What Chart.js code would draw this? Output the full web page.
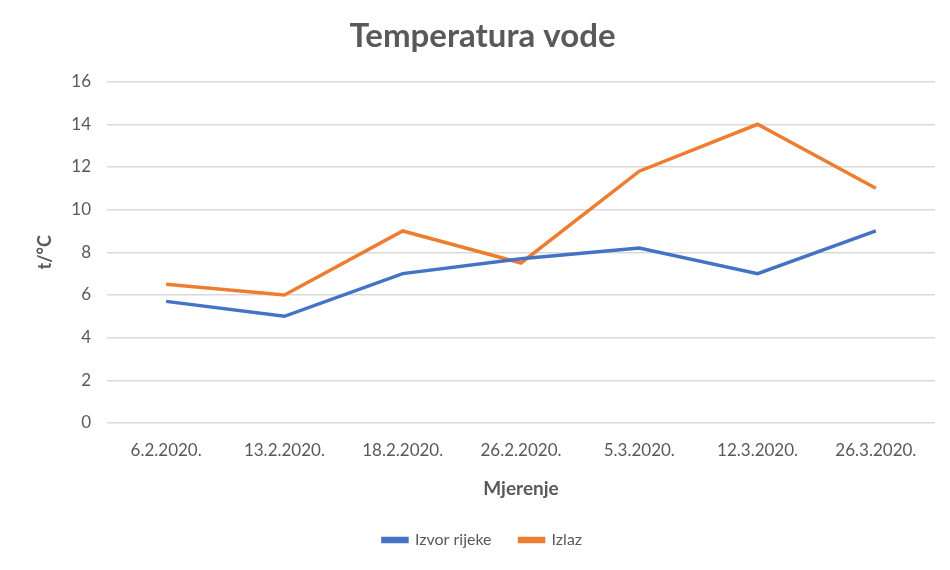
<!DOCTYPE html>
<html>
<head>
<meta charset="utf-8">
<script src="https://cdn.jsdelivr.net/npm/chart.js@4"></script>
<style>
  html, body { margin: 0; padding: 0; background: #fff; }
  #wrap { width: 950px; height: 570px; }
</style>
</head>
<body>
<div id="wrap"><canvas id="tempChart"></canvas></div>
<script>
// podaci
const mjerenja = ['6.2.2020.', '13.2.2020.', '18.2.2020.', '26.2.2020.', '5.3.2020.', '12.3.2020.', '26.3.2020.'];
const izvorRijeke = [5.7, 5.0, 7.0, 7.7, 8.2, 7.0, 9.0];
const izlaz = [6.5, 6.0, 9.0, 7.5, 11.8, 14.0, 11.0];

const grey = '#595959';
const fontFam = 'Lato, "Open Sans", sans-serif';

const ctx = document.getElementById('tempChart').getContext('2d');
new Chart(ctx, {
    type: 'line',
    data: {
        labels: mjerenja,
        datasets: [{
            label: 'Izvor rijeke',
            data: izvorRijeke,
            borderColor: '#4472C4',
            backgroundColor: '#4472C4',
            borderWidth: 3.5,
            pointRadius: 0,
            tension: 0
        }, {
            label: 'Izlaz',
            data: izlaz,
            borderColor: '#ED7D31',
            backgroundColor: '#ED7D31',
            borderWidth: 3.5,
            pointRadius: 0,
            tension: 0
        }]
    },
    options: {
        responsive: true,
        maintainAspectRatio: false,
        animation: false,
        layout: { padding: { left: 30, right: 15, top: 17, bottom: 12 } },
        plugins: {
            title: {
                display: true,
                text: 'Temperatura vode',
                color: grey,
                font: { family: fontFam, size: 33, weight: 'bold' },
                padding: { top: 0, bottom: 25 }
            },
            legend: {
                position: 'bottom',
                labels: {
                    color: grey,
                    boxWidth: 24,
                    boxHeight: 3,
                    padding: 28,
                    font: { family: fontFam, size: 16 }
                }
            },
            tooltip: { enabled: false }
        },
        scales: {
            x: {
                offset: true,
                grid: { display: false },
                border: { display: false },
                ticks: {
                    color: grey,
                    maxRotation: 0,
                    autoSkip: false,
                    padding: 9,
                    font: { family: fontFam, size: 17 }
                },
                title: {
                    display: true,
                    text: 'Mjerenje',
                    color: grey,
                    font: { family: fontFam, size: 19, weight: 'bold' },
                    padding: { top: 14 }
                },
                afterFit: (scale) => { scale.height = 81; }
            },
            y: {
                min: 0,
                max: 16,
                grid: { color: '#d9d9d9', lineWidth: 1.5, drawTicks: false },
                border: { display: false },
                ticks: {
                    stepSize: 2,
                    color: grey,
                    padding: 16,
                    font: { family: fontFam, size: 17 }
                },
                title: {
                    display: true,
                    text: 't/°C',
                    color: grey,
                    font: { family: fontFam, size: 18, weight: 'bold' }
                },
                afterFit: (scale) => { scale.width = 77; }
            }
        }
    }
});
</script>
</body>
</html>
